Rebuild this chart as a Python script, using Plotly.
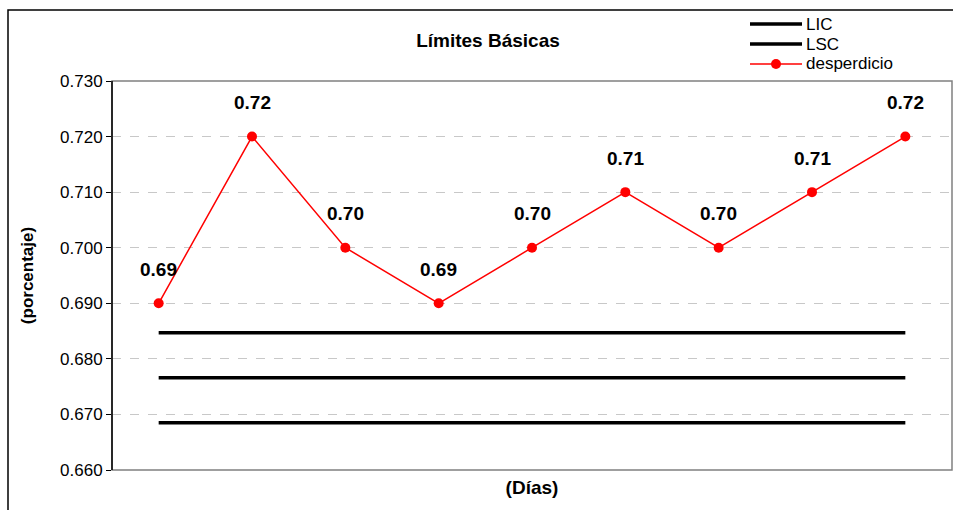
import plotly.graph_objects as go

# Daily waste percentage with its control limits
dias = list(range(1, 10))
desperdicio = [0.690, 0.720, 0.700, 0.690, 0.700, 0.710, 0.700, 0.710, 0.720]
lsc = 0.6847
lc = 0.6766
lic = 0.6685

y_ticks = [0.660, 0.670, 0.680, 0.690, 0.700, 0.710, 0.720, 0.730]

FONT = "Liberation Sans, Arial, sans-serif"
W, H = 953, 510
ML, MR, MT, MB = 112, 1, 81, 40
PW, PH = W - ML - MR, H - MT - MB


def px_x(p):
    return (p - ML) / PW


def px_y(p):
    return 1 + (MT - p) / PH


x = list(range(len(dias)))

LIMIT_LINE = dict(color="black", width=3.5)
SERIES_LINE = dict(color="#ff0000", width=1.5)
SERIES_MARKER = dict(color="#ff0000", size=10)

fig = go.Figure()

fig.add_trace(go.Scatter(x=x, y=[lic] * len(x), name="LIC", mode="lines",
                         line=LIMIT_LINE))
fig.add_trace(go.Scatter(x=x, y=[lsc] * len(x), name="LSC", mode="lines",
                         line=LIMIT_LINE))
fig.add_trace(go.Scatter(x=x, y=[lc] * len(x), name="LC", mode="lines",
                         line=LIMIT_LINE))
fig.add_trace(go.Scatter(x=x, y=desperdicio, name="desperdicio",
                         mode="lines+markers", line=SERIES_LINE,
                         marker=SERIES_MARKER))

# value labels above each point
for xi, v in zip(x, desperdicio):
    fig.add_annotation(
        x=xi, y=v, text=f"{v:.2f}", showarrow=False,
        yshift=34, yanchor="middle",
        font=dict(family=FONT, size=19, color="black", weight="bold"),
    )

shapes = [
    # plot area border (grey)
    dict(type="rect", xref="paper", yref="paper", x0=0, x1=1, y0=0, y1=1,
         line=dict(color="#808080", width=1.5), layer="above"),
    # outer chart frame
    dict(type="rect", xref="paper", yref="paper",
         x0=px_x(8), x1=px_x(W + 20), y0=px_y(H + 20), y1=px_y(10),
         line=dict(color="black", width=1.5), layer="above"),
    # left axis line (black)
    dict(type="line", xref="paper", yref="paper", x0=0, x1=0, y0=0, y1=1,
         line=dict(color="black", width=1.5), layer="above"),
]

# compact legend box in the top-right corner
legend_items = [
    ("LIC", LIMIT_LINE, None),
    ("LSC", LIMIT_LINE, None),
    ("desperdicio", SERIES_LINE, SERIES_MARKER),
]
LEG_X0, LEG_X1, LEG_TXT = 750, 802, 805
LEG_Y0, LEG_DY = 24, 20
for i, (label, line, marker) in enumerate(legend_items):
    yp = LEG_Y0 + i * LEG_DY
    yc = px_y(yp)
    shapes.append(dict(type="line", xref="paper", yref="paper",
                       x0=px_x(LEG_X0), x1=px_x(LEG_X1), y0=yc, y1=yc,
                       line=dict(color=line["color"], width=line["width"])))
    if marker is not None:
        xm = (LEG_X0 + LEG_X1) / 2
        r = marker["size"] / 2
        shapes.append(dict(type="circle", xref="paper", yref="paper",
                           x0=px_x(xm - r), x1=px_x(xm + r),
                           y0=px_y(yp + r), y1=px_y(yp - r),
                           fillcolor=marker["color"],
                           line=dict(color=marker["color"], width=0)))
    fig.add_annotation(
        xref="paper", yref="paper", x=px_x(LEG_TXT), y=yc,
        xanchor="left", yanchor="middle", text=label, showarrow=False,
        borderpad=0,
        font=dict(family=FONT, size=17, color="black"),
    )

fig.update_layout(
    width=W, height=H,
    margin=dict(l=ML, r=MR, t=MT, b=MB),
    paper_bgcolor="white", plot_bgcolor="white",
    font=dict(family=FONT, color="black"),
    shapes=shapes,
    showlegend=False,
    title=dict(
        text="Límites Básicas", xref="paper", x=px_x(488), xanchor="center",
        yref="container", y=1 - 40 / H, yanchor="middle",
        font=dict(family=FONT, size=19, color="black", weight="bold"),
    ),
    xaxis=dict(
        range=[-0.5, len(x) - 0.5], showticklabels=False, ticks="",
        showgrid=False, zeroline=False, showline=False,
        title=dict(text="(Días)", standoff=10,
                   font=dict(family=FONT, size=19, color="black", weight="bold")),
    ),
    yaxis=dict(
        range=[0.660, 0.730], tickvals=y_ticks, tickformat=".3f",
        ticks="outside", ticklen=5, tickcolor="black", tickwidth=1,
        tickfont=dict(family=FONT, size=17, color="black"),
        showgrid=True, gridcolor="#c8c8c8", griddash="dash", gridwidth=1,
        zeroline=False, showline=False,
        title=dict(text="(porcentaje)", standoff=22,
                   font=dict(family=FONT, size=17, color="black", weight="bold")),
    ),
)

fig.write_html("out.html")
